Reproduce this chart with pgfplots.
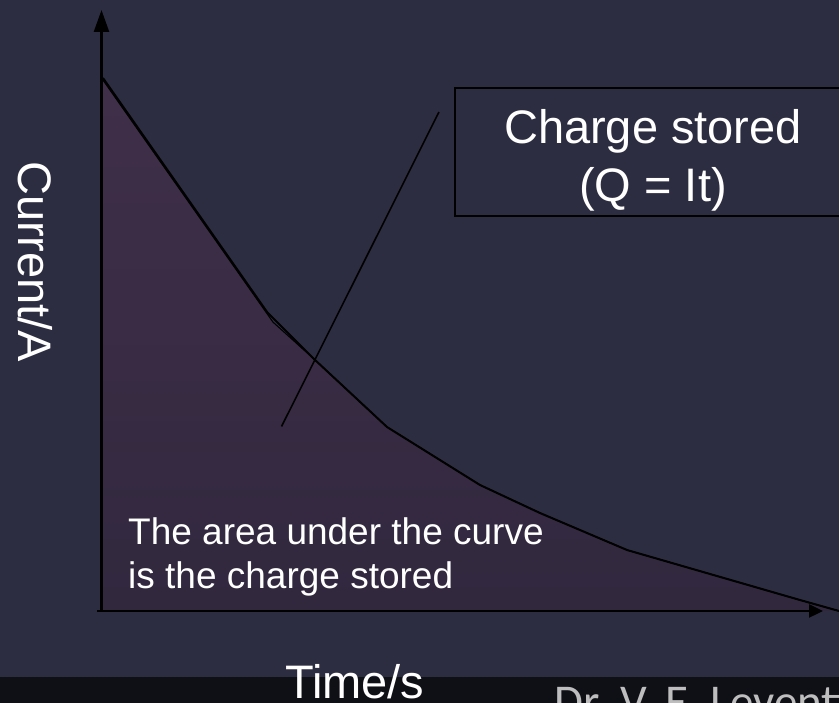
\documentclass[border=0pt]{standalone}
\usepackage{pgfplots}
\pgfplotsset{compat=1.18}
\usepackage{fontspec}
\setmainfont{Liberation Sans}
\newfontfamily\footfont{Carlito}
\usetikzlibrary{arrows.meta}
\definecolor{bg}{RGB}{45,45,66}
\definecolor{band}{RGB}{15,15,22}
\definecolor{fillTop}{RGB}{64,47,73}
\definecolor{fillBot}{RGB}{49,40,62}
\definecolor{footgray}{RGB}{190,190,190}
\begin{document}
\begin{tikzpicture}
\useasboundingbox (0,0) rectangle (839pt,703pt);
\clip (0,0) rectangle (839pt,703pt);
\fill[bg] (0,0) rectangle (839pt,703pt);
\fill[band] (0,0) rectangle (839pt,26pt);
\begin{axis}[at={(0pt,0pt)}, anchor=south west, scale only axis,
  width=839pt, height=703pt,
  xmin=-1.37627, xmax=10, ymin=-0.86304, ymax=5.73171,
  hide axis, clip=false]
% area under the curve
\addplot[draw=none, top color=fillTop, bottom color=fillBot] coordinates {
  (0,0) (0,5.0) (2.325,2.71) (2.895,2.355) (3.871,1.726) (5.132,1.182)
  (5.946,0.919) (7.126,0.572) (9.471,0.103) (10.0,0) };
% polygon outline
\addplot[black, line width=1.1pt] coordinates {
  (0,5.0) (2.325,2.71) (2.895,2.355) (3.871,1.726) (5.132,1.182)
  (5.946,0.919) (7.126,0.572) (9.471,0.103) (10.0,0) };
% decay curve
\addplot[black, line width=2pt] coordinates {
  (0.02,5.0) (2.25,2.80) (2.895,2.355) (3.871,1.726) (5.132,1.182)
  (5.946,0.919) (7.126,0.572) (9.471,0.103) (10.0,0) };
% tangent line
\addplot[black, line width=1.6pt] coordinates {(2.441,1.731) (4.576,4.681)};
% axes
\draw[black, line width=2.5pt, -{Triangle[length=22pt,width=15pt]}]
  (axis cs:0,0) -- (axis cs:0,5.638);
\draw[black, line width=2.5pt, -{Triangle[length=14pt,width=13pt]}]
  (axis cs:-0.061,0) -- (axis cs:9.783,0);
\end{axis}
% box
\draw[black, line width=2pt] (455pt,615pt) rectangle (870pt,487pt);
\node[anchor=base, text=white, font=\fontsize{47}{57}\selectfont, inner sep=0pt]
  at (653pt,559pt) {Charge stored};
\node[anchor=base, text=white, font=\fontsize{47}{57}\selectfont, inner sep=0pt]
  at (653pt,501pt) {(Q = It)};
% annotation
\node[anchor=base west, text=white, font=\fontsize{37}{44}\selectfont, inner sep=0pt]
  at (128pt,158pt) {The area under the curve};
\node[anchor=base west, text=white, font=\fontsize{37}{44}\selectfont, inner sep=0pt]
  at (128pt,114pt) {is the charge stored};
% axis labels
\node[anchor=base west, rotate=-90, text=white, font=\fontsize{47}{57}\selectfont, inner sep=0pt]
  at (19pt,542pt) {Current/A};
\node[anchor=base west, text=white, font=\fontsize{47}{57}\selectfont, inner sep=0pt]
  at (285pt,4pt) {Time/s};
% footer
\node[anchor=base west, text=footgray, font=\footfont\fontsize{47}{56}\selectfont, inner sep=0pt]
  at (554pt,-15pt) {Dr. V. E. Leventis};
\end{tikzpicture}
\end{document}
